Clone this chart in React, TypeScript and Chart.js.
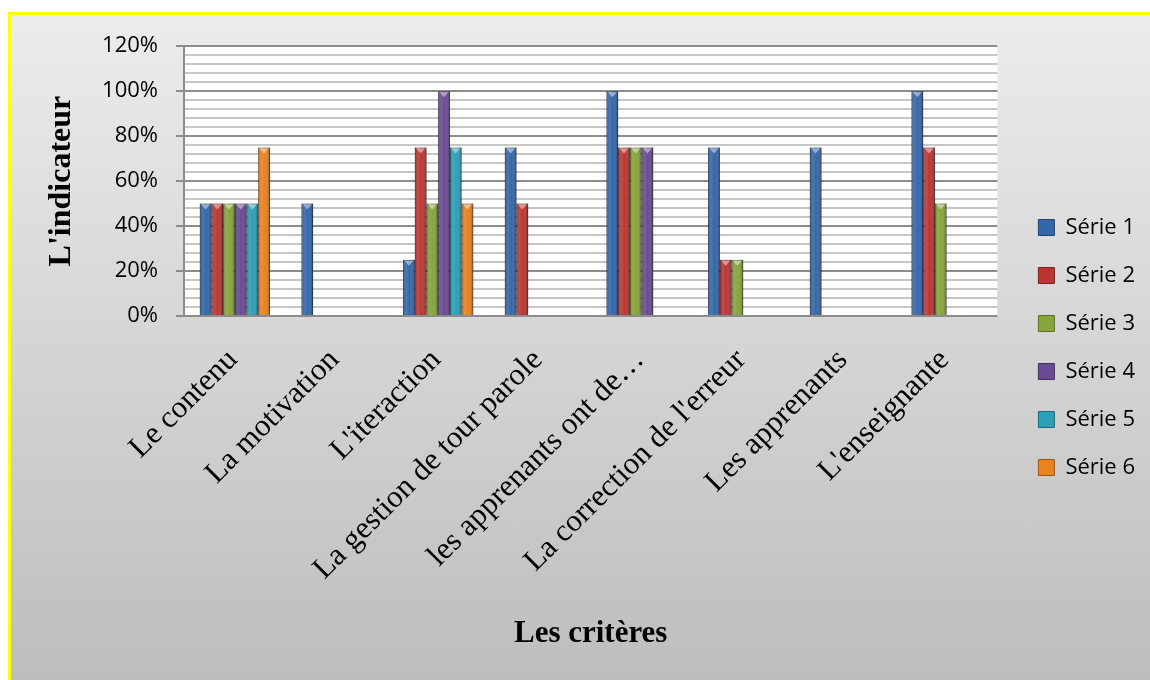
import React, { useEffect, useRef } from 'react';
import { Chart, registerables } from 'chart.js';

Chart.register(...registerables);

const categories = [
  'Le contenu',
  'La motivation',
  "L'iteraction",
  'La gestion de tour parole',
  'les apprenants ont de…',
  "La correction de l'erreur",
  'Les apprenants',
  "L'enseignante",
];

const seriesNames = ['Série 1', 'Série 2', 'Série 3', 'Série 4', 'Série 5', 'Série 6'];

const serie1 = [50, 50, 25, 75, 100, 75, 75, 100];
const serie2 = [50, null, 75, 50, 75, 25, null, 75];
const serie3 = [50, null, 50, null, 75, 25, null, 50];
const serie4 = [50, null, 100, null, 75, null, null, null];
const serie5 = [50, null, 75, null, null, null, null, null];
const serie6 = [75, null, 50, null, null, null, null, null];

const majorTicks = [0, 20, 40, 60, 80, 100, 120];

const fills = ['#3467aa', '#bb3633', '#86a53a', '#6a4a92', '#2c9fb9', '#e9821f'];
const edges = ['#1f4374', '#7c1f1d', '#5a7322', '#452f62', '#1a6b7e', '#a5560f'];

const SANS = "'Open Sans', 'Noto Sans', sans-serif";
const SERIF = "'Times New Roman', 'Liberation Serif', serif";

const plotBackground = {
  id: 'plotBackground',
  beforeDraw(chart: any) {
    const { ctx, chartArea } = chart;
    ctx.save();
    ctx.fillStyle = '#ffffff';
    ctx.fillRect(chartArea.left, chartArea.top, chartArea.right - chartArea.left, chartArea.bottom - chartArea.top);
    ctx.restore();
  },
};

const barShade = {
  id: 'barShade',
  beforeDatasetsDraw(chart: any) {
    const ctx = chart.ctx;
    ctx.save();
    ctx.shadowColor = 'rgba(0,0,0,0.28)';
    ctx.shadowBlur = 4;
    ctx.shadowOffsetX = 2;
    ctx.shadowOffsetY = 0;
  },
  afterDatasetsDraw(chart: any) {
    const ctx = chart.ctx;
    ctx.restore();
    chart.data.datasets.forEach((ds: any, di: number) => {
      const meta = chart.getDatasetMeta(di);
      if (meta.hidden) return;
      meta.data.forEach((el: any, i: number) => {
        if (ds.data[i] == null) return;
        const p = el.getProps(['x', 'y', 'base', 'width'], true);
        const l = p.x - p.width / 2;
        const r = p.x + p.width / 2;
        const g = ctx.createLinearGradient(l, 0, r, 0);
        g.addColorStop(0, 'rgba(0,0,0,0.30)');
        g.addColorStop(0.3, 'rgba(255,255,255,0.10)');
        g.addColorStop(0.55, 'rgba(255,255,255,0)');
        g.addColorStop(1, 'rgba(0,0,0,0.35)');
        ctx.save();
        ctx.fillStyle = g;
        ctx.fillRect(l, p.y, p.width, p.base - p.y);
        ctx.beginPath();
        ctx.moveTo(l + 1.5, p.y + 1);
        ctx.lineTo(r - 1.5, p.y + 1);
        ctx.lineTo(p.x, p.y + 6);
        ctx.closePath();
        ctx.fillStyle = 'rgba(255,255,255,0.45)';
        ctx.fill();
        ctx.restore();
      });
    });
  },
};

export default function App() {
  const canvasRef = useRef<HTMLCanvasElement | null>(null);

  useEffect(() => {
    const all = [serie1, serie2, serie3, serie4, serie5, serie6];
    const chart = new Chart(canvasRef.current as HTMLCanvasElement, {
      type: 'bar',
      data: {
        labels: categories,
        datasets: all.map((d, i) => ({
          label: seriesNames[i],
          data: d,
          backgroundColor: fills[i],
          borderColor: edges[i],
          borderWidth: 1,
          categoryPercentage: 0.69,
          barPercentage: 1.0,
        })),
      },
      options: {
        responsive: false,
        animation: false,
        devicePixelRatio: 1,
        layout: { padding: { left: 0, right: 5, top: 0, bottom: 0 } },
        plugins: {
          title: {
            display: true,
            text: ' ',
            fullSize: false,
            padding: { top: 26, bottom: 0 },
            font: { size: 1, lineHeight: 1 },
          },
          tooltip: { enabled: false },
          legend: {
            position: 'right',
            align: 'center',
            labels: {
              boxWidth: 16,
              boxHeight: 16,
              padding: 26,
              color: '#000000',
              font: { family: SANS, size: 22 },
            },
          },
        },
        scales: {
          x: {
            grid: { display: false, drawTicks: false },
            border: { display: false },
            ticks: {
              autoSkip: false,
              maxRotation: 45,
              minRotation: 45,
              padding: 26,
              labelOffset: -2,
              color: '#000000',
              font: { family: SERIF, size: 31 },
            },
            title: {
              display: true,
              text: 'Les critères',
              color: '#000000',
              font: { family: SERIF, size: 31, weight: 'bold' },
              padding: { top: 0, bottom: 27 },
            },
            afterFit: (s: any) => {
              s.height = 364;
            },
          },
          y: {
            min: 0,
            max: 120,
            ticks: {
              stepSize: 4,
              maxTicksLimit: 100,
              autoSkip: false,
              padding: 18,
              color: '#000000',
              font: { family: SANS, size: 22 },
              callback: (v: any) => (majorTicks.includes(Number(v)) ? v + '%' : ''),
            },
            grid: {
              color: (c: any) => (majorTicks.includes(c.tick?.value) ? '#8c8c8c' : '#c6c6c6'),
              lineWidth: 2,
              tickLength: 8,
              tickColor: (c: any) => (majorTicks.includes(c.tick?.value) ? '#8c8c8c' : 'rgba(0,0,0,0)'),
            },
            border: { display: true, color: '#8c8c8c', width: 2 },
            title: {
              display: true,
              text: "L'indicateur",
              color: '#000000',
              font: { family: SERIF, size: 32, weight: 'bold' },
              padding: { top: 32, bottom: 0 },
            },
            afterFit: (s: any) => {
              s.width = 173;
            },
          },
          gap: {
            type: 'linear',
            position: 'right',
            display: true,
            grid: { display: false, drawTicks: false },
            border: { display: false },
            ticks: { display: false },
            afterFit: (s: any) => {
              s.width = 15;
            },
          },
        },
      } as any,
      plugins: [plotBackground, barShade],
    });
    return () => chart.destroy();
  }, []);

  return (
    <div
      style={{
        position: 'fixed',
        left: 8,
        top: 12,
        width: 1160,
        height: 668,
        borderLeft: '3px solid #ffff00',
        borderTop: '3px solid #ffff00',
        background: 'linear-gradient(#ececec, #bdbdbd)',
      }}
    >
      <canvas ref={canvasRef} width={1139} height={665} style={{ display: 'block' }} />
    </div>
  );
}
